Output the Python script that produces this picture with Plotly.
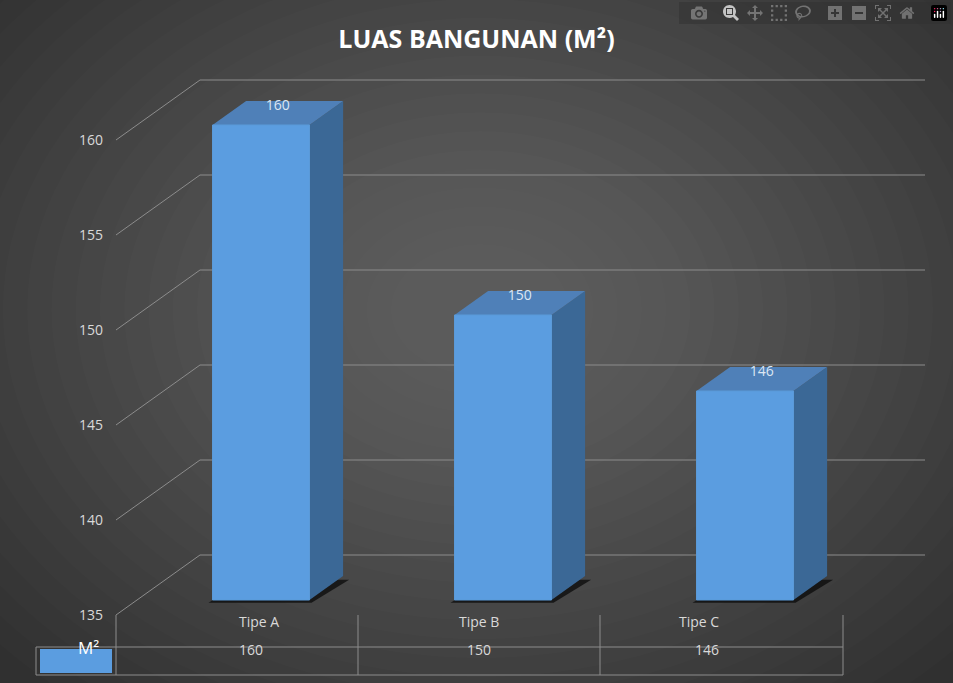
import plotly.graph_objects as go

categories = ["Tipe A", "Tipe B", "Tipe C"]
values = [160, 150, 146]
series_name = "M²"
y_ticks = [135, 140, 145, 150, 155, 160]

# geometry (x in pixel-like units from the front axis, y in data units)
BASE = 135
CAT_W = 242
DX, DY = 84, 60 / 19          # depth offset of the back wall
D0, D1 = 0.25, 0.65           # bar front / back depth
HALF = 48.5

def pt(x, v, d):
    return x + DX * d, v + DY * d

fig = go.Figure()

# back wall grid + side diagonals
for v in y_ticks:
    x0, y0 = pt(0, v, 0)
    x1, y1 = pt(0, v, 1)
    fig.add_trace(go.Scatter(x=[x0, x1, 809], y=[y0, y1, y1], mode="lines",
                             line=dict(color="#8c8c8c", width=1), hoverinfo="skip"))

for i, (cat, val) in enumerate(zip(categories, values)):
    c = CAT_W * i + CAT_W / 2 + 3
    l, r = c - HALF, c + HALF
    # shadow
    sx = [pt(l, BASE, D0)[0] - 4, pt(r, BASE, D0)[0] + 2, pt(r, BASE, D1)[0] + 6, pt(l, BASE, D1)[0]]
    sy = [BASE + DY * D0 - 0.15, BASE + DY * D0 - 0.15, BASE + DY * D1 - 0.2, BASE + DY * D1 - 0.2]
    fig.add_trace(go.Scatter(x=sx + [sx[0]], y=sy + [sy[0]], fill="toself", mode="none",
                             fillcolor="rgba(10,10,10,0.75)", hoverinfo="skip"))
    # side face
    p = [pt(r, BASE, D0), pt(r, BASE, D1), pt(r, val, D1), pt(r, val, D0)]
    fig.add_trace(go.Scatter(x=[q[0] for q in p] + [p[0][0]], y=[q[1] for q in p] + [p[0][1]],
                             fill="toself", mode="none", fillcolor="#3b6896", hoverinfo="skip"))
    # top face
    p = [pt(l, val, D0), pt(r, val, D0), pt(r, val, D1), pt(l, val, D1)]
    fig.add_trace(go.Scatter(x=[q[0] for q in p] + [p[0][0]], y=[q[1] for q in p] + [p[0][1]],
                             fill="toself", mode="none", fillcolor="#4f80b8", hoverinfo="skip"))
    # front face
    p = [pt(l, BASE, D0), pt(r, BASE, D0), pt(r, val, D0), pt(l, val, D0)]
    fig.add_trace(go.Scatter(x=[q[0] for q in p] + [p[0][0]], y=[q[1] for q in p] + [p[0][1]],
                             fill="toself", mode="lines", line=dict(color="#5b9ad8", width=1),
                             fillcolor="#5b9de0", hoverinfo="skip"))
    # data label
    tx, ty = pt(c, val, (D0 + D1) / 2)
    fig.add_trace(go.Scatter(x=[tx], y=[ty + 0.35], mode="text", text=[str(val)],
                             textfont=dict(color="#dce6f2", size=14, family="Open Sans"),
                             hoverinfo="skip"))

# radial-ish background glow
shapes = []
for k in range(24):
    rx = 0.8 - k * 0.03
    ry = 0.9 - k * 0.034
    shapes.append(dict(type="circle", xref="paper", yref="paper", layer="below",
                       x0=0.45 - rx, x1=0.45 + rx, y0=0.55 - ry, y1=0.55 + ry,
                       fillcolor="rgba(255,255,255,0.011)", line=dict(width=0)))

# data table
def px_x(px):
    return (px - 116) / 809

def px_y(py):
    return -(py - 615) / 555

lc = dict(color="#8c8c8c", width=1)
for b in [116, 358, 600, 843]:
    shapes.append(dict(type="line", xref="paper", yref="paper", x0=px_x(b), x1=px_x(b),
                       y0=px_y(615), y1=px_y(675), line=lc))
for h in [647, 675]:
    shapes.append(dict(type="line", xref="paper", yref="paper", x0=px_x(36), x1=px_x(843),
                       y0=px_y(h), y1=px_y(h), line=lc))
shapes.append(dict(type="line", xref="paper", yref="paper", x0=px_x(36), x1=px_x(36),
                   y0=px_y(647), y1=px_y(675), line=lc))
shapes.append(dict(type="rect", xref="paper", yref="paper", x0=px_x(40), x1=px_x(112),
                   y0=px_y(649), y1=px_y(673), fillcolor="#5b9de0", line=dict(width=0)))

annotations = [dict(xref="paper", yref="paper", x=px_x(76), y=px_y(661), text=series_name,
                    showarrow=False, font=dict(color="white", size=17, family="Open Sans"))]
for i, (cat, val) in enumerate(zip(categories, values)):
    cx = px_x(116 + CAT_W * i + CAT_W / 2)
    annotations.append(dict(xref="paper", yref="paper", x=cx, y=px_y(633), text=cat,
                            showarrow=False, font=dict(color="#d9d9d9", size=14, family="Open Sans")))
    annotations.append(dict(xref="paper", yref="paper", x=cx, y=px_y(661), text=str(val),
                            showarrow=False, font=dict(color="#d9d9d9", size=14, family="Open Sans")))

fig.update_layout(
    width=953, height=683,
    margin=dict(l=116, r=28, t=60, b=68),
    paper_bgcolor="#303030", plot_bgcolor="rgba(0,0,0,0)",
    showlegend=False,
    title=dict(text="<b>LUAS BANGUNAN (M²)</b>", x=0.5, y=0.955, xanchor="center",
               font=dict(color="white", size=25, family="Open Sans")),
    xaxis=dict(range=[0, 809], visible=False, fixedrange=True),
    yaxis=dict(range=[135, 135 + 555 / 19], tickvals=y_ticks, showgrid=False, zeroline=False,
               showline=False, ticks="", ticklabelstandoff=12,
               tickfont=dict(color="#d9d9d9", size=14, family="Open Sans")),
    shapes=shapes, annotations=annotations,
)
fig.write_html("out.html", post_script="document.body.style.margin='0';")
